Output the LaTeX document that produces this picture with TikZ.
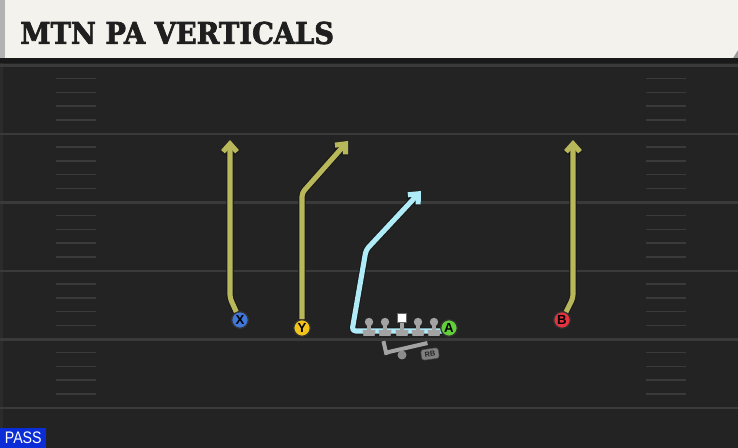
\documentclass[tikz,border=0pt]{standalone}
\usepackage{fontspec}
\setmainfont{DejaVu Serif}
\setsansfont{Liberation Sans}
\newfontfamily\titlefont{DejaVu Serif}[BoldFeatures={FakeBold=2.5}]
\usetikzlibrary{calc,arrows.meta}
\definecolor{field}{HTML}{232323}
\definecolor{fieldline}{HTML}{3A3A3A}
\definecolor{cream}{HTML}{F4F2EC}
\definecolor{olive}{HTML}{B8B75A}
\definecolor{sky}{HTML}{B0EBF8}
\definecolor{xblue}{HTML}{3F78D8}
\definecolor{yyellow}{HTML}{F2C41B}
\definecolor{bred}{HTML}{E5333F}
\definecolor{agreen}{HTML}{62CE3A}
\definecolor{passblue}{HTML}{0B2DD8}
\definecolor{lineman}{HTML}{A3A3A3}
\begin{document}
\begin{tikzpicture}[
	x=0.02cm,y=-0.02cm,
	route/.style={line width=2.9pt,line join=round,rounded corners=2pt,
		preaction={draw=black!90,line width=4.1pt},
		arrows={-Straight Barb[length=4.5pt,width=8pt]}},
	player/.style={circle,draw=black!80,line width=0.7pt,minimum size=9.4pt,inner sep=0pt,
		font=\sffamily\bfseries\fontsize{7.5}{7.5}\selectfont},
	hash/.style={fieldline,line width=0.9pt},
	yard/.style={fieldline,line width=1.2pt}]
	\useasboundingbox (0,0) rectangle (738,448);
	% field
	\fill[field] (0,58) rectangle (738,448);
	\fill[black!90!white] (0,58) rectangle (738,63);
	\fill[black!83!white] (0,63) rectangle (3,448);
	\foreach \k in {1,...,24} {
		\draw[hash] (56,65+13.7*\k) -- (96,65+13.7*\k);
		\draw[hash] (646,65+13.7*\k) -- (686,65+13.7*\k);
	}
	\foreach \k in {0,...,5}
		\draw[yard] (0,65.5+68.5*\k) -- (738,65.5+68.5*\k);
	% header
	\fill[black!40] (733,50) -- (738,50) -- (738,58) -- (733,58) -- cycle;
	\fill[cream] (5,0) -- (738,0) -- (738,50) -- (733,58) -- (5,58) -- cycle;
	\fill[black!30] (0,0) rectangle (5,58);
	\node[anchor=west,font=\titlefont\bfseries\fontsize{17}{17}\selectfont,text=black!88,inner sep=0pt] (title)
		at (20,33) {\scalebox{0.915}[1]{MTN PA VERTICALS}};
	% players
	\node[player,fill=xblue]   (x) at (240,320) {X};
	\node[player,fill=yyellow] (y) at (302,328) {Y};
	\node[player,fill=bred]    (b) at (562,320) {B};
	\coordinate (x1) at (230,298);
	\coordinate (x2) at (230,140);
	\coordinate (y1) at (302,193);
	\coordinate (y2) at (348,141);
	\coordinate (b1) at (573,298);
	\coordinate (b2) at (573,140);
	\coordinate (a0) at (443,331);
	\coordinate (a1) at (352,331);
	\coordinate (a2) at (366,250);
	\coordinate (a3) at (421,191);
	\draw[route,olive] (x) -- (x1) -- (x2);
	\draw[route,olive] (y) -- (y1) -- (y2);
	\draw[route,olive] (b) -- (b1) -- (b2);
	\draw[route,sky] (a0) -- (a1) -- (a2) -- (a3);
	% line
	\foreach \lx in {369,385,402,418,434} {
		\fill[lineman] (\lx-2,322) rectangle (\lx+2,331);
		\fill[lineman] (\lx-6.5,330) -- (\lx+6.5,330) -- (\lx+5.5,336) -- (\lx-5.5,336) -- cycle;
	}
	\foreach \lx in {369,385,418,434}
		\fill[lineman] (\lx,322) circle[radius=4.2];
	\fill[white,draw=black!60,line width=0.3pt] (397.5,313.5) rectangle (406.5,322.5);
	% back
	\fill[lineman,rotate around={13:(406,348)}] (385,346) rectangle (428,350);
	\fill[lineman,rotate around={13:(385,348)}] (383,341) rectangle (387,355);
	\fill[black!45] (402,355) circle[radius=4.5];
	\node[fill=black!50,draw=black!70,line width=0.3pt,rounded corners=1.5pt,minimum width=10pt,minimum height=6pt,inner sep=0pt,
		rotate=8,font=\sffamily\bfseries\fontsize{4.2}{4.2}\selectfont,text=black!85] (rb) at (430,354) {RB};
	\node[player,fill=agreen] (a) at (449,328) {A};
	% tag
	\node[fill=passblue,text=white,anchor=south west,minimum width=46*0.567pt,minimum height=20*0.567pt,inner sep=0pt,
		font=\sffamily\fontsize{9.5}{9.5}\selectfont] (pass) at (0,448) {\scalebox{0.85}[1]{PASS}};
\end{tikzpicture}
\end{document}
